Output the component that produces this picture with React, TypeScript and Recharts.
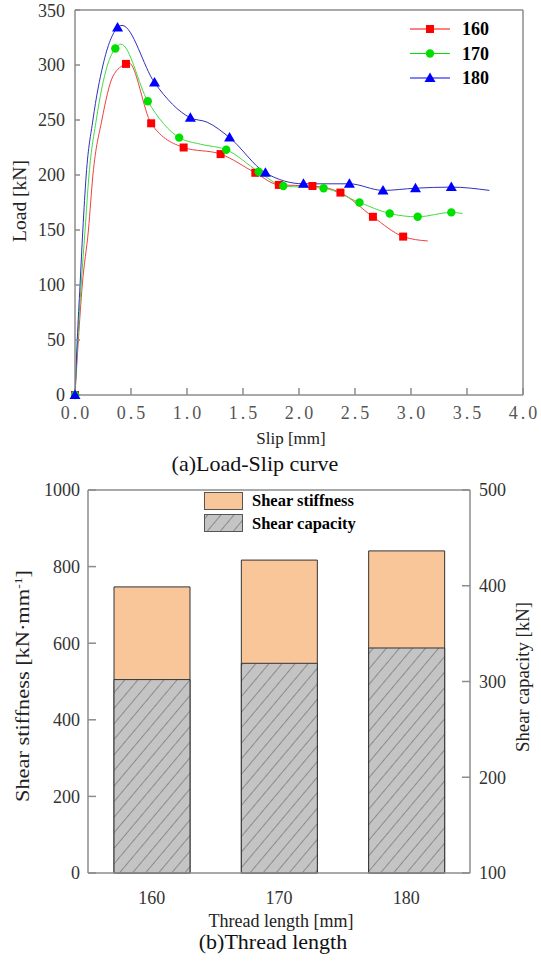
import React from 'react';
import {
  ComposedChart,
  Line,
  Scatter,
  Bar,
  XAxis,
  YAxis,
  ReferenceLine,
  Legend,
  Label,
} from 'recharts';

// (a) Load-slip curves: marked points
const slip160 = [0, 0.455, 0.68, 0.97, 1.3, 1.61, 1.82, 2.12, 2.37, 2.66, 2.93];
const load160 = [0, 301, 247, 225, 219, 202, 191, 190, 184, 162, 144];
const slip170 = [0, 0.36, 0.65, 0.93, 1.35, 1.64, 1.86, 2.22, 2.54, 2.81, 3.06, 3.36];
const load170 = [0, 315, 267, 234, 223, 203, 190, 188, 175, 165, 162, 166];
const slip180 = [0, 0.38, 0.71, 1.03, 1.38, 1.7, 2.04, 2.45, 2.75, 3.04, 3.36];
const load180 = [0, 334, 284, 252, 234, 202, 192, 192, 186, 188, 189];

// unmarked points (rising branch, peak, shoulder, tail)
const traceSlip160 = [0.03, 0.065, 0.12, 0.16, 0.24, 0.34, 0.48, 3.15];
const traceLoad160 = [50, 100, 150, 200, 250, 290, 302, 140];
const traceSlip170 = [0.025, 0.055, 0.09, 0.125, 0.19, 0.29, 0.41, 1.12, 3.46];
const traceLoad170 = [50, 100, 150, 200, 250, 300, 319, 228, 165];
const traceSlip180 = [0.02, 0.045, 0.07, 0.1, 0.16, 0.25, 0.42, 1.18, 3.7];
const traceLoad180 = [50, 100, 150, 200, 250, 300, 336, 248, 186];

const slipTicks = [0, 0.5, 1, 1.5, 2, 2.5, 3, 3.5, 4];
const loadTicks = [0, 50, 100, 150, 200, 250, 300, 350];

// (b) Thread length
const threadLengths = ['160', '170', '180'];
const shearStiffness = [747, 817, 841];
const shearCapacity = [302, 319, 335];
const stiffnessTicks = [0, 200, 400, 600, 800, 1000];
const capacityTicks = [100, 200, 300, 400, 500];

const serif = '"Liberation Serif", "Times New Roman", serif';
const gray = '#8c8c8c';
const RED = '#ff0000';
const GREEN = '#00e000';
const BLUE = '#0000ff';

const pts = (xs: number[], ys: number[]) => xs.map((x, i) => ({ slip: x, load: ys[i] }));
const curve = (xs: number[], ys: number[], tx: number[], ty: number[]) =>
  [...pts(xs, ys), ...pts(tx, ty)].sort((a, b) => a.slip - b.slip);

const barData = threadLengths.map((t, i) => ({
  len: t,
  stiffness: shearStiffness[i],
  capacity: shearCapacity[i],
}));

const Square = (p: any) => <rect x={p.cx - 4} y={p.cy - 4} width={8} height={8} fill={RED} />;
const Circ = (p: any) => <circle cx={p.cx} cy={p.cy} r={4.2} fill={GREEN} />;
const Tri = (p: any) => (
  <polygon
    points={`${p.cx},${p.cy - 5.5} ${p.cx + 5.5},${p.cy + 4} ${p.cx - 5.5},${p.cy + 4}`}
    fill={BLUE}
  />
);

const SlipTick = (p: any) => (
  <text x={p.x + 1.5} y={p.y} dy="0.71em" textAnchor="middle" fill="#555" fontSize={18}
    fontFamily={serif} style={{ letterSpacing: '3px' }}>
    {Number(p.payload.value).toFixed(1)}
  </text>
);

const TopLegend = () => {
  const rows = [
    { name: '160', color: RED, mark: <rect x={18} y={-4} width={8} height={8} fill={RED} /> },
    { name: '170', color: GREEN, mark: <circle cx={22} cy={0} r={4.2} fill={GREEN} /> },
    { name: '180', color: BLUE, mark: <polygon points="22,-5.5 27.5,4 16.5,4" fill={BLUE} /> },
  ];
  return (
    <svg width={110} height={76} style={{ display: 'block' }}>
      {rows.map((r, i) => (
        <g key={r.name} transform={`translate(0, ${11 + i * 24.5})`}>
          <line x1={2} x2={42} y1={0} y2={0} stroke={r.color} strokeWidth={1} />
          {r.mark}
          <text x={54} y={6} fontSize={18} fontWeight="bold" fontFamily={serif} fill="#000">
            {r.name}
          </text>
        </g>
      ))}
    </svg>
  );
};

const BottomLegend = () => (
  <svg width={200} height={46} style={{ display: 'block' }}>
    <rect x={2.5} y={2.5} width={38} height={17} fill="#f9c699" stroke="#555" />
    <rect x={2.5} y={24.5} width={38} height={17} fill="url(#hatch)" stroke="#555" />
    <text x={50} y={16} fontSize={16.5} fontWeight="bold" fontFamily={serif} fill="#000">
      Shear stiffness
    </text>
    <text x={50} y={39} fontSize={16.5} fontWeight="bold" fontFamily={serif} fill="#000">
      Shear capacity
    </text>
  </svg>
);

const textStyle = { fontFamily: serif, fill: '#222' };

export default function App() {
  const c160 = curve(slip160, load160, traceSlip160, traceLoad160);
  const c170 = curve(slip170, load170, traceSlip170, traceLoad170);
  const c180 = curve(slip180, load180, traceSlip180, traceLoad180);

  return (
    <div style={{ position: 'relative', width: 541, height: 962, background: '#fff', fontFamily: serif }}>
      <style>{'body{margin:0}'}</style>
      <svg width={0} height={0} style={{ position: 'absolute' }}>
        <defs>
          <pattern id="hatch" width={10} height={10} patternUnits="userSpaceOnUse" patternTransform="rotate(40)">
            <rect width={10} height={10} fill="#c4c4c4" />
            <line x1={0} y1={0} x2={0} y2={10} stroke="#444" strokeWidth={0.9} />
          </pattern>
        </defs>
      </svg>

      {/* (a) Load-Slip curve */}
      <div style={{ position: 'absolute', left: 0, top: 0 }}>
        <ComposedChart width={541} height={450} margin={{ top: 10, right: 18, left: 0, bottom: 0 }}>
          <XAxis dataKey="slip" type="number" domain={[0, 4]} ticks={slipTicks} height={55}
            stroke={gray} strokeWidth={1.5} tickSize={-7} tickMargin={18} tick={<SlipTick />}>
            <Label content={() => (
              <text x={291} y={444} textAnchor="middle" fontSize={17} style={textStyle}>Slip [mm]</text>
            )} />
          </XAxis>
          <YAxis type="number" domain={[0, 350]} ticks={loadTicks} width={75} stroke={gray}
            strokeWidth={1.5} tickSize={-5} tickMargin={15}
            tick={{ fontSize: 18, fontFamily: serif, fill: '#333' }}>
            <Label content={() => (
              <text x={22} y={201} textAnchor="middle" dominantBaseline="middle" fontSize={18}
                textLength={82} lengthAdjust="spacingAndGlyphs"
                transform="rotate(-90, 22, 201)" style={textStyle}>Load [kN]</text>
            )} />
          </YAxis>
          <ReferenceLine y={350} stroke={gray} strokeWidth={1.5} />
          <ReferenceLine x={4} stroke={gray} strokeWidth={1.5} />
          <Legend layout="horizontal" verticalAlign="middle" align="center" content={() => <TopLegend />}
            wrapperStyle={{ top: 18, left: 408, width: 110, height: 76 }} />
          <Line data={c160} dataKey="load" type="monotone" stroke="#f04040" strokeWidth={1}
            dot={false} isAnimationActive={false} legendType="none" />
          <Line data={c170} dataKey="load" type="monotone" stroke="#40dd40" strokeWidth={1}
            dot={false} isAnimationActive={false} legendType="none" />
          <Line data={c180} dataKey="load" type="monotone" stroke="#3030c0" strokeWidth={1}
            dot={false} isAnimationActive={false} legendType="none" />
          <Scatter data={pts(slip160, load160)} dataKey="load" shape={Square} isAnimationActive={false} />
          <Scatter data={pts(slip170, load170)} dataKey="load" shape={Circ} isAnimationActive={false} />
          <Scatter data={pts(slip180, load180)} dataKey="load" shape={Tri} isAnimationActive={false} />
        </ComposedChart>
      </div>
      <div style={{ position: 'absolute', top: 451, left: 0, width: 510, textAlign: 'center', fontSize: 22, color: '#111' }}>
        (a)Load-Slip curve
      </div>

      {/* (b) Thread length */}
      <div style={{ position: 'absolute', left: 0, top: 470 }}>
        <ComposedChart width={541} height={480} data={barData} margin={{ top: 20, right: 0, left: 0, bottom: 0 }}>
          <XAxis xAxisId="a" dataKey="len" height={77} stroke={gray} strokeWidth={1.5} tickLine={false}
            tickMargin={12} tick={{ fontSize: 18, fontFamily: serif, fill: '#333' }}>
            <Label content={() => (
              <text x={281} y={457} textAnchor="middle" fontSize={18} style={textStyle}>Thread length [mm]</text>
            )} />
          </XAxis>
          <XAxis xAxisId="b" dataKey="len" hide />
          <YAxis yAxisId="k" type="number" domain={[0, 1000]} ticks={stiffnessTicks} width={88}
            stroke={gray} strokeWidth={1.5} tickSize={-8} tickMargin={16}
            tick={{ fontSize: 18, fontFamily: serif, fill: '#333' }}>
            <Label content={() => (
              <text x={25} y={216} textAnchor="middle" dominantBaseline="middle" fontSize={18}
                textLength={232} lengthAdjust="spacingAndGlyphs"
                transform="rotate(-90, 25, 216)" style={textStyle}>
                Shear stiffness [kN·mm<tspan baselineShift="super" fontSize={11}>-1</tspan>]
              </text>
            )} />
          </YAxis>
          <YAxis yAxisId="c" orientation="right" type="number" domain={[100, 500]} ticks={capacityTicks}
            width={71} stroke={gray} strokeWidth={1.5} tickSize={-8} tickMargin={17}
            tick={{ fontSize: 18, fontFamily: serif, fill: '#333' }}>
            <Label content={() => (
              <text x={525} y={207} textAnchor="middle" dominantBaseline="middle" fontSize={18}
                textLength={150} lengthAdjust="spacingAndGlyphs"
                transform="rotate(-90, 525, 207)" style={textStyle}>Shear capacity [kN]</text>
            )} />
          </YAxis>
          <ReferenceLine xAxisId="a" yAxisId="k" y={1000} stroke={gray} strokeWidth={1.5} />
          <Legend layout="horizontal" verticalAlign="middle" align="center" content={() => <BottomLegend />}
            wrapperStyle={{ top: 20, left: 202, width: 200, height: 46 }} />
          <Bar xAxisId="a" yAxisId="k" dataKey="stiffness" barSize={76} fill="#f9c699"
            stroke="#333" strokeWidth={1} isAnimationActive={false} />
          <Bar xAxisId="b" yAxisId="c" dataKey="capacity" barSize={76} fill="url(#hatch)"
            stroke="#333" strokeWidth={1} isAnimationActive={false} />
        </ComposedChart>
      </div>
      <div style={{ position: 'absolute', top: 929, left: 0, width: 546, textAlign: 'center', fontSize: 22, color: '#111' }}>
        (b)Thread length
      </div>
    </div>
  );
}
